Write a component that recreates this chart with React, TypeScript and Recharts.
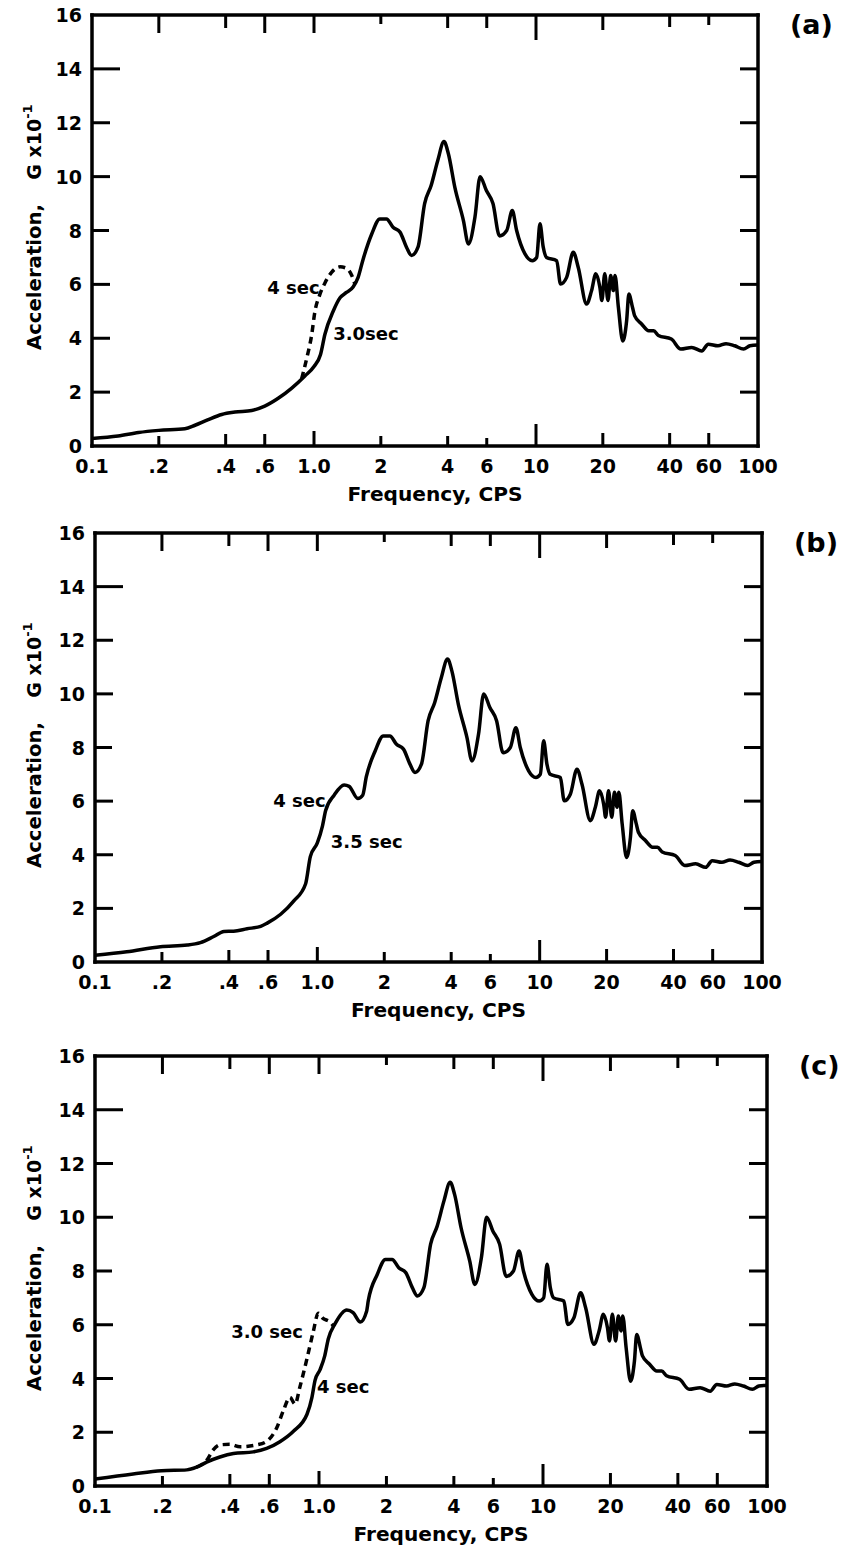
import React from 'react';
import { LineChart, Line, XAxis, YAxis, ReferenceDot } from 'recharts';

// ---------- axis ticks ----------
const xTickValues = [0.1, 0.2, 0.4, 0.6, 1, 2, 4, 6, 10, 20, 40, 60, 100];
const xTickLabels = ['0.1', '.2', '.4', '.6', '1.0', '2', '4', '6', '10', '20', '40', '60', '100'];
const yTickValues = [0, 2, 4, 6, 8, 10, 12, 14, 16];
const yTickLabels = ['0', '2', '4', '6', '8', '10', '12', '14', '16'];

// ---------- data (frequency in CPS, acceleration in G x 10^-1) ----------
// high-frequency part, identical in all three panels
const sharedFreq = [1.66, 1.82, 1.98, 2.12, 2.27, 2.44, 2.61, 2.75, 2.94, 3.15, 3.37, 3.61, 3.85, 4.03, 4.31, 4.71, 4.96, 5.31, 5.6, 5.97, 6.4, 6.85, 7.38, 7.82, 8.18, 8.92, 9.62, 10.07, 10.42, 10.78, 11.15, 12.39, 12.9, 13.74, 14.72, 15.5, 16.9, 17.8, 18.6, 19.4, 19.8, 20.4, 21.1, 21.7, 22.3, 22.7, 23.5, 24.6, 25.6, 26.2, 27.2, 27.8, 29.9, 32.2, 33.9, 35.6, 40.7, 44.9, 50.3, 55.8, 59.7, 66, 71.8, 78.5, 86.1, 92, 100];
const sharedAcc = [6.9, 7.87, 8.43, 8.43, 8.12, 7.94, 7.38, 7.07, 7.38, 9.0, 9.67, 10.6, 11.3, 10.85, 9.6, 8.37, 7.5, 8.5, 10.0, 9.49, 9.0, 7.8, 8.0, 8.74, 8.0, 7.13, 6.88, 7.0, 8.25, 7.38, 7.0, 6.88, 6.01, 6.26, 7.19, 6.63, 5.27, 5.77, 6.39, 5.89, 5.4, 6.39, 5.4, 6.33, 5.77, 6.33, 5.15, 3.9, 4.65, 5.64, 5.15, 4.84, 4.53, 4.28, 4.28, 4.1, 3.97, 3.6, 3.66, 3.53, 3.78, 3.72, 3.8, 3.72, 3.6, 3.72, 3.75];

// panel (a): 3.0 sec (solid) low-frequency part
const lowFreqA = [0.1, 0.131, 0.162, 0.2, 0.262, 0.291, 0.334, 0.384, 0.441, 0.524, 0.6, 0.69, 0.794, 0.91, 1.0, 1.07, 1.12, 1.22, 1.31, 1.4, 1.5, 1.58];
const lowAccA = [0.28, 0.37, 0.5, 0.58, 0.64, 0.77, 0.98, 1.17, 1.26, 1.32, 1.48, 1.77, 2.15, 2.6, 2.95, 3.4, 4.15, 5.0, 5.5, 5.7, 5.9, 6.26];
// panel (a): 4 sec (dashed)
const dashFreqA = [0.88, 0.93, 0.975, 1.01, 1.06, 1.12, 1.2, 1.31, 1.4, 1.48, 1.53];
const dashAccA = [2.5, 3.3, 4.1, 5.0, 5.6, 6.05, 6.45, 6.65, 6.6, 6.33, 6.0];

// panel (b): 4 sec / 3.5 sec (solid) low-frequency part
const lowFreqB = [0.1, 0.139, 0.197, 0.26, 0.298, 0.342, 0.38, 0.42, 0.483, 0.556, 0.595, 0.684, 0.784, 0.885, 0.93, 1.0, 1.055, 1.09, 1.19, 1.32, 1.39, 1.52, 1.6];
const lowAccB = [0.25, 0.38, 0.57, 0.63, 0.72, 0.95, 1.14, 1.15, 1.24, 1.33, 1.45, 1.78, 2.28, 2.91, 3.93, 4.44, 5.08, 5.65, 6.22, 6.6, 6.55, 6.1, 6.22];

// panel (c): 4 sec (solid) low-frequency part
const lowFreqC = [0.1, 0.148, 0.198, 0.257, 0.284, 0.315, 0.361, 0.415, 0.509, 0.584, 0.669, 0.767, 0.884, 0.93, 0.96, 1.01, 1.06, 1.1, 1.18, 1.33, 1.42, 1.53, 1.63];
const lowAccC = [0.26, 0.45, 0.57, 0.6, 0.7, 0.89, 1.08, 1.21, 1.27, 1.4, 1.65, 2.03, 2.67, 3.3, 3.93, 4.32, 4.83, 5.47, 6.04, 6.55, 6.45, 6.1, 6.49];
// panel (c): 3.0 sec (dashed)
const dashFreqC = [0.284, 0.315, 0.337, 0.361, 0.4, 0.444, 0.527, 0.584, 0.647, 0.693, 0.742, 0.782, 0.822, 0.882, 0.942, 0.992, 1.042, 1.12, 1.16];
const dashAccC = [0.7, 0.95, 1.34, 1.53, 1.55, 1.46, 1.53, 1.66, 2.16, 2.8, 3.3, 3.05, 3.69, 4.71, 5.73, 6.43, 6.24, 6.1, 5.95];

// ---------- annotations (text placed at data coordinates) ----------
type Note = { text: string; f: number; v: number; anchor: 'start' | 'end' };
const notesA: Note[] = [
  { text: '4 sec', f: 1.06, v: 5.9, anchor: 'end' },
  { text: '3.0sec', f: 1.22, v: 4.17, anchor: 'start' },
];
const notesB: Note[] = [
  { text: '4 sec', f: 1.09, v: 6.02, anchor: 'end' },
  { text: '3.5 sec', f: 1.15, v: 4.5, anchor: 'start' },
];
const notesC: Note[] = [
  { text: '3.0 sec', f: 0.848, v: 5.75, anchor: 'end' },
  { text: '4 sec', f: 0.98, v: 3.69, anchor: 'start' },
];

// ---------- styles ----------
const FONT = "'DejaVu Sans', 'Liberation Sans', sans-serif";
const INK = '#000';
const topTickLen: Record<string, number> = { '0.2': 18, '0.4': 13, '0.6': 18, '1': 18, '2': 9, '4': 13, '6': 13, '10': 25, '20': 15, '40': 12, '60': 10 };
const bottomTickLen: Record<string, number> = { '0.2': 10, '0.4': 12, '0.6': 12, '1': 15, '2': 10, '4': 10, '6': 8, '10': 22, '20': 13, '40': 13, '60': 13 };
const leftTickLen: Record<string, number> = { '2': 18, '4': 18, '6': 18, '8': 17, '10': 18, '12': 18, '14': 28 };
const rightTickLen: Record<string, number> = { '2': 18, '4': 18, '6': 18, '8': 18, '10': 18, '12': 18, '14': 18 };

const CHART_W = 850;
const CHART_H = 530;
const TOP_AXIS_H = 4;
const RIGHT_AXIS_W = 4;
const LEFT_AXIS_W = 60;
const BOTTOM_AXIS_H = 60;

const toPoints = (fs: number[], vs: number[]) => fs.map((f, i) => ({ f, v: vs[i] }));

type Series = { points: { f: number; v: number }[]; dashed: boolean };
type PanelCfg = {
  tag: string;
  chartTop: number;
  left: number;
  right: number;
  top: number;
  bottom: number;
  series: Series[];
  notes: Note[];
};

const panels: PanelCfg[] = [
  {
    tag: '(a)', chartTop: 0, left: 92, right: 758, top: 15, bottom: 446,
    series: [
      { points: toPoints(lowFreqA.concat(sharedFreq), lowAccA.concat(sharedAcc)), dashed: false },
      { points: toPoints(dashFreqA, dashAccA), dashed: true },
    ],
    notes: notesA,
  },
  {
    tag: '(b)', chartTop: 515, left: 95, right: 762, top: 18, bottom: 447,
    series: [
      { points: toPoints(lowFreqB.concat(sharedFreq), lowAccB.concat(sharedAcc)), dashed: false },
    ],
    notes: notesB,
  },
  {
    tag: '(c)', chartTop: 1040, left: 95, right: 767, top: 16, bottom: 446,
    series: [
      { points: toPoints(lowFreqC.concat(sharedFreq), lowAccC.concat(sharedAcc)), dashed: false },
      { points: toPoints(dashFreqC, dashAccC), dashed: true },
    ],
    notes: notesC,
  },
];

const boldText = { fontFamily: FONT, fontWeight: 700, fill: INK } as const;

// ---------- custom ticks (drawn inward, like the original frame) ----------
const BottomTick = (props: any) => {
  const { x, y, payload } = props;
  const key = String(payload.value);
  const len = bottomTickLen[key] || 0;
  const idx = xTickValues.indexOf(payload.value);
  return (
    <g>
      {len > 0 && <line x1={x} y1={y} x2={x} y2={y - len} stroke={INK} strokeWidth={3} />}
      <text x={x} y={y + 27} textAnchor="middle" style={{ ...boldText, fontSize: 19 }}>
        {xTickLabels[idx]}
      </text>
    </g>
  );
};

const TopTick = (props: any) => {
  const { x, y, payload } = props;
  const len = topTickLen[String(payload.value)] || 0;
  return <g>{len > 0 && <line x1={x} y1={y} x2={x} y2={y + len} stroke={INK} strokeWidth={3} />}</g>;
};

const LeftTick = (props: any) => {
  const { x, y, payload } = props;
  const len = leftTickLen[String(payload.value)] || 0;
  const idx = yTickValues.indexOf(payload.value);
  return (
    <g>
      {len > 0 && <line x1={x} y1={y} x2={x + len} y2={y} stroke={INK} strokeWidth={3} />}
      <text x={x - 10} y={y + 7} textAnchor="end" style={{ ...boldText, fontSize: 19 }}>
        {yTickLabels[idx]}
      </text>
    </g>
  );
};

const RightTick = (props: any) => {
  const { x, y, payload } = props;
  const len = rightTickLen[String(payload.value)] || 0;
  return <g>{len > 0 && <line x1={x} y1={y} x2={x - len} y2={y} stroke={INK} strokeWidth={3} />}</g>;
};

// ---------- titles ----------
const YTitle = ({ cfg }: { cfg: PanelCfg }) => {
  const x = 34;
  const yA = cfg.top + 262;
  const yG = cfg.top + 127;
  return (
    <g>
      <text x={x} y={yA} transform={`rotate(-90, ${x}, ${yA})`} textAnchor="middle" dominantBaseline="central"
        textLength={146} lengthAdjust="spacingAndGlyphs" style={{ ...boldText, fontSize: 19 }}>
        Acceleration,
      </text>
      <text x={x} y={yG} transform={`rotate(-90, ${x}, ${yG})`} textAnchor="middle" dominantBaseline="central"
        style={{ ...boldText, fontSize: 19 }}>
        G x10<tspan dy={-7} fontSize={13}>-1</tspan>
      </text>
    </g>
  );
};

const XTitle = ({ cfg }: { cfg: PanelCfg }) => {
  const cx = (cfg.left + cfg.right) / 2 + 10;
  return (
    <text x={cx} y={cfg.bottom + 55} textAnchor="middle" textLength={175} lengthAdjust="spacingAndGlyphs"
      style={{ ...boldText, fontSize: 19 }}>
      Frequency, CPS
    </text>
  );
};

const Tag = ({ cfg }: { cfg: PanelCfg }) => (
  <text x={cfg.right + 32} y={cfg.top + 19} textAnchor="start" style={{ ...boldText, fontSize: 27 }}>
    {cfg.tag}
  </text>
);

const Panel = ({ cfg }: { cfg: PanelCfg }) => {
  const margin = {
    top: cfg.top - TOP_AXIS_H,
    bottom: CHART_H - cfg.bottom - BOTTOM_AXIS_H,
    left: cfg.left - LEFT_AXIS_W,
    right: CHART_W - cfg.right - RIGHT_AXIS_W,
  };
  const axisLine = { stroke: INK, strokeWidth: 3.5, strokeLinecap: 'square' as const };
  return (
    <div style={{ position: 'absolute', left: 0, top: cfg.chartTop, width: CHART_W, height: CHART_H }}>
      <LineChart width={CHART_W} height={CHART_H} margin={margin}>
        <XAxis
          dataKey="f" type="number" scale="log" domain={[0.1, 100]} allowDataOverflow
          ticks={xTickValues} interval={0} tickSize={0} tickMargin={0} tickLine={false}
          height={BOTTOM_AXIS_H} axisLine={axisLine} tick={BottomTick}
          label={<XTitle cfg={cfg} />}
        />
        <XAxis
          xAxisId="top" orientation="top" dataKey="f" type="number" scale="log" domain={[0.1, 100]} allowDataOverflow
          ticks={xTickValues} interval={0} tickSize={0} tickMargin={0} tickLine={false}
          height={TOP_AXIS_H} axisLine={axisLine} tick={TopTick}
          label={<Tag cfg={cfg} />}
        />
        <YAxis
          type="number" domain={[0, 16]} allowDataOverflow ticks={yTickValues} interval={0}
          tickSize={0} tickMargin={0} tickLine={false} width={LEFT_AXIS_W} axisLine={axisLine} tick={LeftTick}
          label={<YTitle cfg={cfg} />}
        />
        <YAxis
          yAxisId="right" orientation="right" type="number" domain={[0, 16]} allowDataOverflow ticks={yTickValues}
          interval={0} tickSize={0} tickMargin={0} tickLine={false} width={RIGHT_AXIS_W} axisLine={axisLine}
          tick={RightTick}
        />
        {cfg.series.map((s, i) => (
          <Line
            key={i}
            data={s.points}
            dataKey="v"
            type="monotone"
            stroke={INK}
            strokeWidth={3.5}
            strokeDasharray={s.dashed ? '7 5' : undefined}
            strokeLinejoin="round"
            dot={false}
            activeDot={false}
            isAnimationActive={false}
          />
        ))}
        {cfg.notes.map((n, i) => (
          <ReferenceDot
            key={`n${i}`}
            x={n.f}
            y={n.v}
            r={0}
            shape={(p: any) => (
              <text x={p.cx} y={p.cy} textAnchor={n.anchor} dominantBaseline="central"
                style={{ ...boldText, fontSize: 18 }}>
                {n.text}
              </text>
            )}
          />
        ))}
      </LineChart>
    </div>
  );
};

export default function App() {
  return (
    <div style={{ position: 'absolute', left: 0, top: 0, width: 850, height: 1563, background: '#fff' }}>
      {panels.map((p) => (
        <Panel key={p.tag} cfg={p} />
      ))}
    </div>
  );
}
